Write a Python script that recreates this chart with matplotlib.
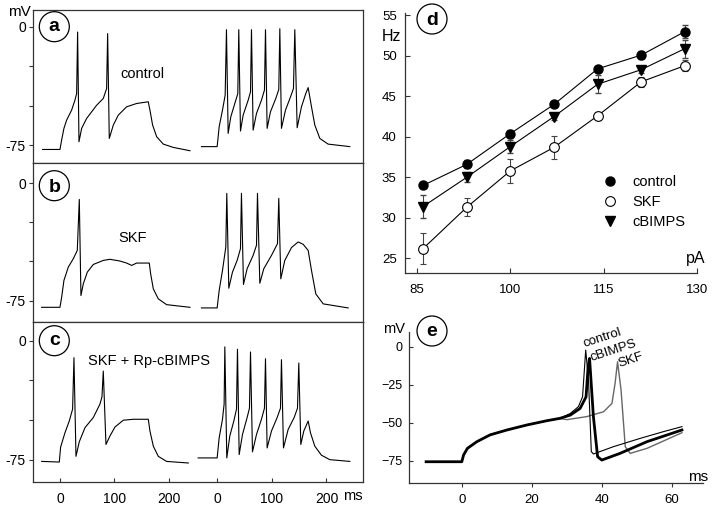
import matplotlib
matplotlib.use("Agg")
import matplotlib.pyplot as plt
from matplotlib.patches import Ellipse
from matplotlib.lines import Line2D

plt.rcParams['font.family'] = ['Liberation Sans', 'DejaVu Sans']

W, H = 714, 509

# ---- panels a-c : voltage traces (ms, mV)
a1_t = [-31.8, 0, 3.1, 7.3, 12.2, 21.4, 27.5, 30.6, 32.4, 34.9, 39.8, 48.9, 67.3, 79.5, 85.6, 87.5, 90.5,
        97.9, 107, 122.3, 140.7, 162, 165.1, 170, 177.4, 189.6, 208, 238.5]
a1_v = [-77.8, -77.8, -71.8, -64.4, -59.2, -52.8, -46.5, -42.3, -3.2, -72.9, -64.4, -58.1, -49.7, -45.4, -39.1, -4.2, -70.8,
        -62.3, -56, -50.7, -48.6, -47.5, -52.8, -62.3, -69.7, -74.4, -76.5, -78.6]
a2_t = [-29.4, -0.6, 3.1, 9.2, 14.1, 16.5, 19.6, 24.5, 31.8, 37.3, 39.1, 42.2, 47.1, 56.3, 60.6, 62.4, 65.4,
        71.6, 80.7, 86.2, 88.1, 91.1, 97.2, 107, 112.5, 114.4, 117.4, 124.8, 134, 139.4, 141.9, 146.2,
        154.1, 162, 166.4, 172.5, 178.6, 187.8, 203, 242.8]
a2_v = [-76, -76, -63.4, -52.8, -43.3, -1.7, -67.6, -57, -48.6, -42.3, -1.7, -66.1, -56, -46.5, -41.2, -1.7, -65.5,
        -54.9, -46.5, -40.1, -1.7, -64.4, -53.9, -45.4, -39.7, -1.1, -64.4, -52.8, -44.4, -39.1, -1.7, -64,
        -50.7, -42.3, -38.5, -50.7, -62.3, -70.8, -74.4, -76]

b1_t = [-33.6, 0, 3.1, 7.3, 15.3, 24.5, 31.8, 35.5, 38.5, 42.8, 50.2, 61.2, 79.5, 91.7, 110, 122.3, 131.5,
        140.7, 163.9, 166.4, 171.3, 180.4, 195.7, 238.5]
b1_v = [-79.3, -79.3, -72.9, -62.1, -53.6, -48.2, -42.9, -10.3, -71.8, -64.3, -56.8, -51.9, -49.3, -48.6, -49.7, -51, -52.5,
        -51, -51, -57.9, -67.5, -73.9, -77.6, -79.3]
b2_t = [-29.4, -0.6, 3.1, 9.2, 15.3, 17.1, 20.8, 27.5, 36.1, 42.2, 44, 47.7, 54.4, 65.4, 71.6, 73.4, 77.7,
        85, 99.1, 110.1, 112.5, 116.2, 123.5, 135.8, 148, 157.2, 166.4, 172.5, 180.4, 193.9, 239.8]
b2_v = [-79.7, -79.7, -68.6, -55.7, -40.7, -6.4, -67.1, -56.8, -49.3, -41.8, -6.4, -64.7, -54.6, -46.1, -39.6, -6.4, -63.9,
        -54.6, -46.1, -38.6, -9.6, -61.1, -49.3, -41.1, -37.5, -39, -42.9, -55.7, -70.7, -77.1, -79.7]

c1_t = [-33.6, -1.2, 1.2, 9.2, 17.1, 23.2, 25.7, 29.4, 35.5, 45.9, 61.2, 73.4, 77.1, 79.5, 84.4, 91.7, 100.9,
        116.2, 134.6, 162.1, 165.1, 171.3, 180.4, 195.7, 235.5]
c1_v = [-76.1, -76.5, -67.1, -58, -50.6, -43.1, -10.6, -72.9, -63.7, -54.8, -48.4, -39.9, -35.3, -19.1, -65.4, -60.1, -54.4,
        -50.1, -49.5, -49.5, -56.9, -66.5, -72.9, -76.1, -77.1]
c2_t = [-35.5, -0.6, 3.1, 9.2, 12.2, 13.5, 17.1, 22.6, 30, 34.9, 36.7, 39.8, 45.9, 54.4, 58.7, 60.6, 64.2,
        71.6, 80.7, 86.2, 88.1, 91.1, 99.1, 109.5, 115.6, 117.4, 121.1, 129.7, 140.7, 146.8, 149.2, 152.9,
        158.4, 166.4, 170.6, 178.6, 190.8, 206.1, 242.8]
c2_v = [-73.9, -73.9, -61.2, -49.5, -39.9, -3.8, -73.9, -60.1, -50.6, -43.1, -5.3, -71.8, -59.1, -48.4, -42.5, -7, -70.1,
        -59.1, -49.5, -42.5, -11.3, -67.6, -56.9, -48.4, -42.5, -11.9, -67.6, -55.9, -48.4, -42.5, -14, -65.4,
        -56.9, -50.6, -58, -66.5, -72.2, -75, -76.1]

trace_offset = 289  # second sweep drawn to the right of the first
left_ylims = [(-86.4, 10.8), (-88.7, 13.0), (-89.1, 11.9)]
left_names = ['control', 'SKF', 'SKF + Rp-cBIMPS']

# ---- panel d : f-I curves
current_pA = [86, 93, 100, 107, 114, 121, 128]
ctrl_hz = [34.0, 36.6, 40.4, 44.0, 48.4, 50.1, 53.0]
ctrl_err = [0.3, 0.5, 0.5, 0.3, 0.4, 0.5, 0.8]
skf_hz = [26.2, 31.3, 35.8, 38.7, 42.6, 46.8, 48.8]
skf_err = [1.9, 1.1, 1.5, 1.4, 0.5, 0.6, 0.7]
cb_hz = [31.4, 35.0, 38.8, 42.5, 46.5, 48.3, 50.9]
cb_err = [1.4, 0.6, 0.8, 0.4, 1.1, 0.4, 1.1]

# ---- panel e : first spike, overlaid
e_ctrl_t = [-10.2, 0, 0.5, 1.6, 4.3, 8.1, 12.9, 18.6, 24.3, 28.1, 31, 33.3, 34.5, 35.4, 36.2, 37, 37.6,
            43.3, 51, 57.6, 62.9]
e_ctrl_v = [-75.7, -75.7, -71.3, -66.9, -62.5, -58, -54.8, -51.5, -48.7, -47.1, -43.9, -39.5, -33, -2.2, -22, -69, -70.6,
            -65.8, -60.3, -55.9, -52.6]
e_cb_t = [-10.2, 0, 0.5, 1.6, 4.3, 8.1, 12.9, 18.6, 24.3, 28.1, 31, 33.8, 35.5, 36.1, 36.5, 37.6, 38.8, 40,
          45.2, 52.9, 62.9]
e_cb_v = [-75.7, -75.7, -71.3, -66.9, -62.5, -58, -54.8, -51.5, -48.7, -47.1, -45, -40.6, -33, -13, -7.7, -46, -72.4, -74.6,
          -70.2, -62.5, -54.8]
e_skf_t = [-10.2, 0, 0.5, 1.6, 4.3, 8.1, 12.9, 18.6, 24.3, 28.1, 30, 35.7, 40.5, 42.9, 43.8, 44.5, 45.5, 46.7, 48.1,
           52.9, 62.9]
e_skf_v = [-75.7, -75.7, -71.3, -66.9, -62.5, -58, -54.8, -51.5, -48.7, -47.3, -48.0, -46, -42.8, -37.3, -24, -9.9, -28.5, -65.8, -70.2,
           -66.9, -56.6]

fig = plt.figure(figsize=(W / 100, H / 100), dpi=100)

def fig_box(x0, y0, x1, y1):
    # pixel box (top-left origin) -> figure fraction rect
    return [x0 / W, 1 - y1 / H, (x1 - x0) / W, (y1 - y0) / H]

spine_col = '#333333'
left_boxes = [(32.7, 10, 363, 163), (32.7, 163, 363, 322), (32.7, 322, 363, 482)]
traces = [(a1_t, a1_v, a2_t, a2_v), (b1_t, b1_v, b2_t, b2_v), (c1_t, c1_v, c2_t, c2_v)]
name_pos = [(152, -30, 'center'), (134, -35, 'center'), (52, -13, 'left')]

for i in range(3):
    ax = fig.add_axes(fig_box(*left_boxes[i]))
    t1, v1, t2, v2 = traces[i]
    ax.plot(t1, v1, color='black', lw=0.8)
    ax.plot([t + trace_offset for t in t2], v2, color='black', lw=0.8)
    ax.set_xlim(-50, 556)
    ax.set_ylim(*left_ylims[i])
    ax.set_yticks([0, -25, -50, -75])
    ax.set_yticklabels(['0', '', '', '-75'], fontsize=10)
    ax.tick_params(axis='y', direction='out', length=3, width=0.8, pad=2, colors=spine_col, labelcolor='black')
    for s in ax.spines.values():
        s.set_linewidth(0.9)
        s.set_color(spine_col)
    nx, ny, ha = name_pos[i]
    ax.text(nx, ny, left_names[i], fontsize=10.5, ha=ha, va='center')
    if i < 2:
        ax.set_xticks([])
    else:
        ax.set_xticks([0, 100, 200, trace_offset, trace_offset + 100, trace_offset + 200])
        ax.set_xticklabels(['0', '100', '200', '0', '100', '200'], fontsize=10)
        ax.tick_params(axis='x', direction='in', length=3, width=0.8, pad=7, colors=spine_col, labelcolor='black')

fig.text(19 / W, 1 - 12.5 / H, 'mV', fontsize=11, ha='center', va='center')
fig.text(343 / W, 1 - 496 / H, 'ms', fontsize=10.5, ha='left', va='center')

# ---- panel d
axd = fig.add_axes(fig_box(405, 13, 697.3, 273.3))
axd.errorbar(current_pA, ctrl_hz, yerr=ctrl_err, color='black', lw=0.8, ecolor='#444444', elinewidth=0.8,
             capsize=2.5, marker='o', ms=6.5, mfc='black', mec='black', zorder=3)
axd.errorbar(current_pA, cb_hz, yerr=cb_err, color='black', lw=0.8, ecolor='#444444', elinewidth=0.8,
             capsize=2.5, marker='v', ms=7, mfc='black', mec='black', zorder=3)
axd.errorbar(current_pA, skf_hz, yerr=skf_err, color='black', lw=0.8, ecolor='#444444', elinewidth=0.8,
             capsize=2.5, marker='o', ms=7, mfc='white', mec='black', mew=0.8, zorder=4)
axd.set_xlim(83.1, 130)
axd.set_ylim(23.15, 55.3)
axd.set_xticks([85, 100, 115, 130])
axd.set_yticks([25, 30, 35, 40, 45, 50, 55])
axd.tick_params(direction='in', length=3.5, width=0.8, labelsize=9.5, colors=spine_col, labelcolor='black')
axd.tick_params(axis='x', pad=8)
axd.tick_params(axis='y', pad=6)
for s in ['top', 'right']:
    axd.spines[s].set_visible(False)
for s in ['left', 'bottom']:
    axd.spines[s].set_linewidth(0.9)
    axd.spines[s].set_color(spine_col)
handles = [Line2D([], [], ls='none', marker='o', ms=6.5, mfc='black', mec='black'),
           Line2D([], [], ls='none', marker='o', ms=7, mfc='white', mec='black', mew=0.8),
           Line2D([], [], ls='none', marker='v', ms=7, mfc='black', mec='black')]
fig.legend(handles, ['control', 'SKF', 'cBIMPS'], loc='upper left', bbox_to_anchor=(603 / W, 1 - 175 / H),
           frameon=False, fontsize=10.5, handlelength=1.0, handletextpad=1.0, labelspacing=0.42,
           borderpad=0, borderaxespad=0)
fig.text(391 / W, 1 - 36.7 / H, 'Hz', fontsize=11.5, ha='center', va='center')
fig.text(705 / W, 1 - 258 / H, 'pA', fontsize=11.5, ha='right', va='center')

# ---- panel e
axe = fig.add_axes(fig_box(409.3, 331.7, 703.3, 482.7))
axe.plot(e_skf_t, e_skf_v, color='#666666', lw=1.0)
axe.plot(e_ctrl_t, e_ctrl_v, color='black', lw=0.8)
axe.plot(e_cb_t, e_cb_v, color='black', lw=2.0)
axe.set_xlim(-15, 69)
axe.set_ylim(-89.5, 9.9)
axe.set_xticks([0, 20, 40, 60])
axe.set_yticks([0, -25, -50, -75])
axe.tick_params(axis='y', direction='in', length=3, width=0.8, pad=5, labelsize=9, colors=spine_col, labelcolor='black')
axe.tick_params(axis='x', direction='out', length=3, width=0.8, pad=5, labelsize=9.5, colors=spine_col, labelcolor='black')
for s in ['top', 'right']:
    axe.spines[s].set_visible(False)
for s in ['left', 'bottom']:
    axe.spines[s].set_linewidth(0.9)
    axe.spines[s].set_color(spine_col)
axe.text(35.4, -2.0, 'control', fontsize=9.5, rotation=18, rotation_mode='anchor', ha='left', va='bottom')
axe.text(37.4, -11.5, 'cBIMPS', fontsize=9.5, rotation=18, rotation_mode='anchor', ha='left', va='bottom')
axe.text(45.4, -15.5, 'SKF', fontsize=9.5, rotation=18, rotation_mode='anchor', ha='left', va='bottom')
fig.text(394 / W, 1 - 329 / H, 'mV', fontsize=10.5, ha='center', va='center')
fig.text(698 / W, 1 - 477 / H, 'ms', fontsize=11, ha='center', va='center')

# ---- circled panel letters
circles = [(54.3, 26.7, 'a', 4.5), (54.3, 185.7, 'b', 6.5), (54.3, 340.7, 'c', 4.5),
           (432, 19, 'd', 6.5), (432, 331, 'e', 4.5)]
for cx, cy, letter, base in circles:
    fig.patches.append(Ellipse((cx / W, 1 - cy / H), 30 / W, 30 / H, transform=fig.transFigure,
                               facecolor='white', edgecolor='black', lw=0.9, zorder=2))
    fig.text(cx / W, 1 - (cy + base) / H, letter, fontsize=14, fontweight='bold',
             ha='center', va='baseline', zorder=3)

fig.savefig('out.png', dpi=100)
